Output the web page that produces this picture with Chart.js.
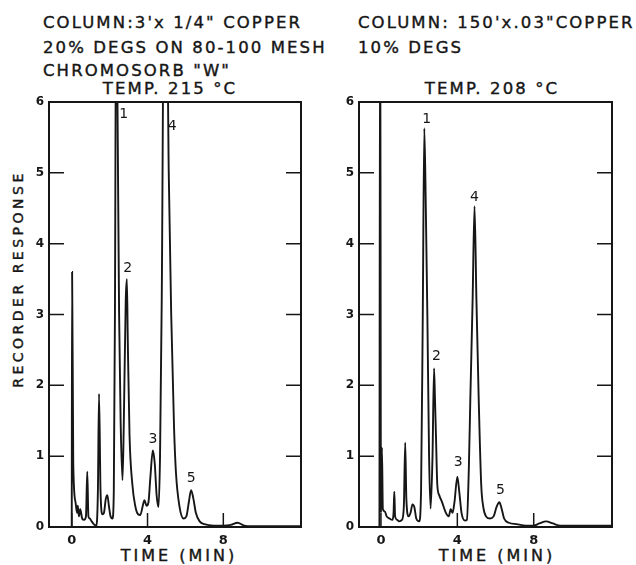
<!DOCTYPE html>
<html>
<head>
<meta charset="utf-8">
<script src="https://cdn.jsdelivr.net/npm/chart.js@4.4.1/dist/chart.umd.min.js"></script>
<style>
  html, body { margin: 0; padding: 0; background: #fff; }
  body { width: 636px; height: 565px; position: relative; overflow: hidden;
         font-family: "DejaVu Sans", sans-serif; color: #161616; }
  .txt { position: absolute; font-size: 16.5px; line-height: 16px; white-space: nowrap;
         letter-spacing: 2.1px; -webkit-text-stroke: 0.4px #161616; }
  .ctr { transform: translateX(-50%); }
  canvas { position: absolute; top: 80px; }
  #axisY { position: absolute; left: 18px; top: 279px; font-size: 14px; letter-spacing: 3.5px;
           white-space: nowrap; transform: translate(-50%, -50%) rotate(-90deg);
           -webkit-text-stroke: 0.4px #161616; }
  .timeLbl { position: absolute; top: 548px; font-size: 16px; line-height: 16px; letter-spacing: 3px;
             white-space: nowrap; transform: translateX(-50%); -webkit-text-stroke: 0.4px #161616; }
</style>
</head>
<body>
<div class="txt" style="left:43px; top:15px;">COLUMN:3'x 1/4" COPPER</div>
<div class="txt" style="left:43px; top:40px;">20% DEGS ON 80-100 MESH</div>
<div class="txt" style="left:43px; top:63px;">CHROMOSORB "W"</div>
<div class="txt ctr" style="left:170px; top:81px;">TEMP. 215 °C</div>
<div class="txt" style="left:358px; top:15px;">COLUMN: 150'x.03"COPPER</div>
<div class="txt" style="left:358px; top:40px;">10% DEGS</div>
<div class="txt ctr" style="left:492px; top:81px;">TEMP. 208 °C</div>
<div id="axisY">RECORDER RESPONSE</div>
<div class="timeLbl" style="left:179px;">TIME (MIN)</div>
<div class="timeLbl" style="left:497px;">TIME (MIN)</div>

<canvas id="leftChart" width="318" height="485" style="left:0px;"></canvas>
<canvas id="rightChart" width="318" height="485" style="left:318px;"></canvas>

<script>
// ---- data (time in min, recorder response) ----
const xTicks = [0, 4, 8];
const yTicks = [0, 1, 2, 3, 4, 5, 6];

// left: 3' x 1/4" column, 215 °C  (peaks 1 and 4 run off scale)
const leftTime = [0.0, 0.02, 0.08, 0.2, 0.28, 0.32, 0.38, 0.45, 0.55, 0.65, 0.75, 0.82, 0.88, 0.95,
  1.05, 1.2, 1.3, 1.38, 1.44, 1.52, 1.62, 1.7, 1.8, 1.88, 1.96, 2.05, 2.15, 2.22, 2.28, 2.35,
  2.42, 2.5, 2.58, 2.68, 2.75, 2.85, 2.91, 2.96, 3.05, 3.2, 3.35, 3.5, 3.62, 3.75, 3.84, 3.95,
  4.05, 4.15, 4.28, 4.38, 4.48, 4.58, 4.66, 4.75, 4.88, 5.0, 5.12, 5.25, 5.4, 5.5, 5.68, 5.9,
  6.05, 6.18, 6.3, 6.42, 6.55, 6.75, 7.0, 7.5, 8.0, 8.4, 8.75, 9.1, 9.5, 10.5, 12.1];
const leftResponse = [0.0, 3.6, 0.9, 0.35, 0.2, 0.3, 0.15, 0.25, 0.12, 0.1, 0.15, 0.78, 0.15, 0.12,
  0.08, 0.03, 0.02, 0.5, 1.88, 0.5, 0.18, 0.2, 0.4, 0.45, 0.3, 0.15, 0.12, 0.5, 3.0, 8.0,
  5.8, 3.0, 1.5, 0.66, 1.5, 3.2, 3.5, 2.6, 1.3, 0.6, 0.3, 0.18, 0.17, 0.3, 0.38, 0.3,
  0.35, 0.7, 1.08, 0.9, 0.45, 0.28, 1.0, 3.2, 8.0, 8.0, 5.0, 3.0, 1.4, 0.77, 0.3, 0.12,
  0.15, 0.35, 0.52, 0.4, 0.2, 0.08, 0.04, 0.02, 0.02, 0.03, 0.06, 0.02, 0.01, 0.01, 0.01];
const leftPeakNames = ['1', '2', '3', '4', '5'];
const leftPeakX = [2.74, 2.95, 4.28, 5.3, 6.3];
const leftPeakY = [5.82, 3.65, 1.24, 5.65, 0.69];

// right: 150' x .03" column, 208 °C
const rightTime = [-0.08, -0.04, 0.0, 0.05, 0.1, 0.2, 0.3, 0.45, 0.6, 0.66, 0.7, 0.74, 0.85, 0.95,
  1.1, 1.2, 1.27, 1.33, 1.45, 1.55, 1.65, 1.75, 1.85, 2.0, 2.1, 2.19, 2.27, 2.35, 2.43, 2.52,
  2.6, 2.7, 2.78, 2.83, 2.88, 2.95, 3.05, 3.2, 3.4, 3.55, 3.65, 3.75, 3.85, 4.0, 4.1, 4.22,
  4.4, 4.5, 4.6, 4.68, 4.8, 4.9, 5.0, 5.12, 5.25, 5.36, 5.5, 5.7, 5.9, 6.05, 6.2, 6.3, 6.45,
  6.7, 7.1, 7.6, 8.0, 8.3, 8.65, 9.0, 9.4, 10.5, 12.1];
const rightResponse = [0.0, 8.0, 0.2, 1.12, 0.25, 0.22, 0.15, 0.12, 0.1, 0.2, 0.5, 0.15, 0.1, 0.08,
  0.1, 0.3, 1.19, 0.4, 0.15, 0.2, 0.32, 0.28, 0.12, 0.08, 0.5, 3.0, 5.63, 4.5, 3.0, 1.0,
  0.26, 1.0, 2.24, 1.8, 1.3, 0.6, 0.45, 0.35, 0.2, 0.15, 0.25, 0.2, 0.35, 0.71, 0.5, 0.2,
  0.09, 0.1, 0.8, 1.8, 3.2, 4.53, 3.2, 1.8, 0.6, 0.28, 0.15, 0.12, 0.15, 0.28, 0.35, 0.28, 0.12,
  0.06, 0.04, 0.02, 0.02, 0.05, 0.08, 0.05, 0.02, 0.02, 0.02];
const rightPeakNames = ['1', '2', '3', '4', '5'];
const rightPeakX = [2.4, 2.9, 4.05, 4.9, 6.26];
const rightPeakY = [5.76, 2.41, 0.91, 4.66, 0.52];

const INK = '#161616';

// frame box, inward tick marks and peak numbers
const framePlugin = {
  id: 'frame',
  afterDatasetsDraw(chart, args, opts) {
    const { ctx, chartArea: a, scales: { x, y } } = chart;
    ctx.save();
    ctx.strokeStyle = INK;
    ctx.lineWidth = 2;
    ctx.strokeRect(a.left, a.top, a.right - a.left, a.bottom - a.top);
    ctx.lineWidth = 1.5;
    ctx.beginPath();
    yTicks.slice(1, -1).forEach(v => {
      const py = y.getPixelForValue(v);
      ctx.moveTo(a.left, py); ctx.lineTo(a.left + 15, py);
      ctx.moveTo(a.right - 15, py); ctx.lineTo(a.right, py);
    });
    xTicks.forEach(v => {
      const px = x.getPixelForValue(v);
      ctx.moveTo(px, a.bottom); ctx.lineTo(px, a.bottom - 14);
    });
    ctx.stroke();
    ctx.fillStyle = INK;
    ctx.font = '14px "DejaVu Sans"';
    ctx.textAlign = 'center';
    ctx.textBaseline = 'middle';
    opts.names.forEach((n, i) => {
      ctx.fillText(n, x.getPixelForValue(opts.xs[i]), y.getPixelForValue(opts.ys[i]));
    });
    ctx.restore();
  }
};

function makeChart(id, time, resp, names, px, py, xMin, xMax, yWidth, padRight) {
  return new Chart(document.getElementById(id), {
    type: 'line',
    data: {
      datasets: [{
        data: time.map((t, i) => ({ x: t, y: resp[i] })),
        borderColor: INK,
        borderWidth: 1.9,
        pointRadius: 0,
        cubicInterpolationMode: 'monotone',
        fill: false,
      }]
    },
    options: {
      responsive: false,
      animation: false,
      events: [],
      layout: { padding: { top: 22, right: padRight, left: 0, bottom: 0 } },
      plugins: {
        legend: { display: false },
        tooltip: { enabled: false },
        frame: { names: names, xs: px, ys: py },
      },
      scales: {
        x: {
          type: 'linear',
          min: xMin, max: xMax,
          afterBuildTicks: s => { s.ticks = xTicks.map(v => ({ value: v })); },
          afterFit: s => { s.height = 38; },
          grid: { display: false, drawTicks: false },
          border: { display: false },
          ticks: { color: INK, padding: 6, font: { family: 'DejaVu Sans', size: 13, weight: 'bold' } },
        },
        y: {
          min: 0, max: 6,
          afterBuildTicks: s => { s.ticks = yTicks.map(v => ({ value: v })); },
          afterFit: s => { s.width = yWidth; },
          grid: { display: false, drawTicks: false },
          border: { display: false },
          ticks: { color: INK, padding: 5, font: { family: 'DejaVu Sans', size: 12, weight: 'bold' } },
        }
      }
    },
    plugins: [framePlugin]
  });
}

makeChart('leftChart', leftTime, leftResponse, leftPeakNames, leftPeakX, leftPeakY, -1.2, 12.1, 49, 17);
makeChart('rightChart', rightTime, rightResponse, rightPeakNames, rightPeakX, rightPeakY, -1.15, 12.1, 41, 24);
</script>
</body>
</html>
